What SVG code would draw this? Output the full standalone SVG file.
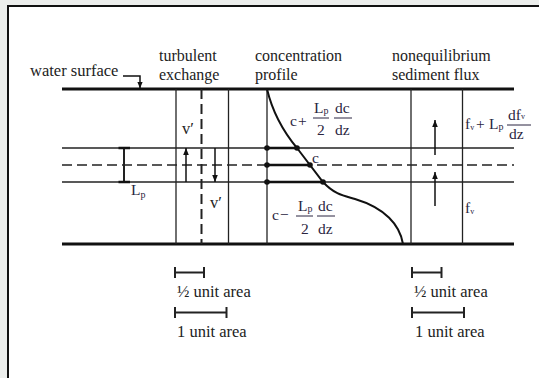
<svg xmlns="http://www.w3.org/2000/svg" width="539" height="378" viewBox="0 0 539 378">
<defs>
<marker id="ah" viewBox="0 0 8 8" refX="8" refY="4" markerWidth="7" markerHeight="7" markerUnits="userSpaceOnUse" orient="auto">
<path d="M0,0.8 L8,4 L0,7.2 Z" fill="#111"/>
</marker>
<style>
.lbl{font-family:"Liberation Serif","DejaVu Serif",serif;font-size:16.5px;fill:#222}
.hd{font-family:"Liberation Serif","DejaVu Serif",serif;font-size:16px;fill:#222}
.m{font-family:"Liberation Serif","DejaVu Serif",serif;font-size:15.5px;fill:#2a2540}
.thick{stroke:#111;stroke-width:3;fill:none}
.thin{stroke:#222;stroke-width:1.3;fill:none}
.dash{stroke:#222;stroke-width:1.3;stroke-dasharray:10 5;fill:none}
.vdash{stroke:#222;stroke-width:2;stroke-dasharray:10 5;fill:none}
.bar{stroke:#222;stroke-width:2;fill:none}
.arr{stroke:#111;stroke-width:1.5;fill:none;marker-end:url(#ah)}
.seg{stroke:#111;stroke-width:2.5}
.dot{fill:#111}
</style>
</defs>
<rect x="0" y="0" width="539" height="378" fill="#eceeec"/>
<rect x="8" y="6" width="540" height="380" fill="#fff" stroke="#111" stroke-width="2"/>

<g id="channel">
<line class="thick" x1="62" y1="89" x2="514" y2="89"/>
<line class="thick" x1="62" y1="244" x2="514" y2="244"/>
<line class="thin" x1="62" y1="148" x2="514" y2="148"/>
<line class="thin" x1="62" y1="182" x2="514" y2="182"/>
<line class="dash" x1="62" y1="165" x2="514" y2="165"/>
</g>

<g id="water-surface">
<text class="lbl" x="30" y="76">water surface</text>
<path class="arr" d="M123,76 H140 V88.5" />
</g>

<g id="lp-marker">
<line class="bar" x1="124" y1="148" x2="124" y2="182"/>
<line class="seg" x1="118.5" y1="148" x2="130" y2="148"/>
<line class="seg" x1="118.5" y1="182" x2="130" y2="182"/>
<text class="m" x="131" y="195" font-size="14">L<tspan font-size="10" dy="3">p</tspan></text>
</g>

<g id="turbulent-exchange">
<text class="hd" x="159" y="61">turbulent</text>
<text class="hd" x="159" y="79.5">exchange</text>
<line class="thin" x1="176" y1="89" x2="176" y2="244"/>
<line class="thin" x1="228.5" y1="89" x2="228.5" y2="244"/>
<line class="vdash" x1="201.5" y1="89" x2="201.5" y2="244"/>
<text class="lbl" x="182" y="134">v′</text>
<text class="lbl" x="210" y="208">v′</text>
</g>

<g id="concentration-profile">
<text class="hd" x="255" y="61">concentration</text>
<text class="hd" x="255" y="79.5">profile</text>
<line class="thin" x1="267" y1="89" x2="267" y2="244" stroke-width="1.5"/>
<path d="M267,89 C272,110 282,130 297,148 L323,182 C335,195 345,196 355,199 C385,208 400,225 403,244" fill="none" stroke="#111" stroke-width="2"/>
<line class="seg" x1="267" y1="148" x2="297" y2="148"/>
<line class="seg" x1="267" y1="165" x2="310" y2="165"/>
<line class="seg" x1="267" y1="182" x2="323" y2="182"/>
<circle class="dot" cx="267" cy="148" r="2.8"/>
<circle class="dot" cx="267" cy="165" r="2.8"/>
<circle class="dot" cx="267" cy="182" r="2.8"/>
<circle class="dot" cx="297" cy="148" r="2.8"/>
<circle class="dot" cx="310" cy="165" r="2.8"/>
<circle class="dot" cx="323" cy="182" r="2.8"/>
<text class="m" x="312" y="163" font-size="17">c</text>
<text class="m" x="290" y="126" font-size="17">c</text>
<text class="m" x="298" y="126" font-size="17">+</text>
<text class="m" x="314" y="113">L<tspan font-size="10" dy="1">p</tspan></text>
<line x1="313" y1="118" x2="329" y2="118" stroke="#2a2540" stroke-width="1"/>
<text class="m" x="317" y="135">2</text>
<text class="m" x="335" y="113">dc</text>
<line x1="334" y1="118" x2="352" y2="118" stroke="#2a2540" stroke-width="1"/>
<text class="m" x="335" y="135">dz</text>
<text class="m" x="272" y="220" font-size="17">c</text>
<text class="m" x="280" y="220" font-size="17">−</text>
<text class="m" x="298" y="211">L<tspan font-size="10" dy="1">p</tspan></text>
<line x1="296" y1="216" x2="313" y2="216" stroke="#2a2540" stroke-width="1"/>
<text class="m" x="301" y="234">2</text>
<text class="m" x="318" y="211">dc</text>
<line x1="317" y1="216" x2="335" y2="216" stroke="#2a2540" stroke-width="1"/>
<text class="m" x="318" y="234">dz</text>
</g>

<g id="sediment-flux">
<text class="hd" x="392" y="61">nonequilibrium</text>
<text class="hd" x="392" y="79.5">sediment flux</text>
<line class="thin" x1="411" y1="89" x2="411" y2="244"/>
<line class="thin" x1="462.5" y1="89" x2="462.5" y2="244"/>
<text class="m" x="465" y="129">f<tspan font-size="8" dy="1">v</tspan></text>
<text class="m" x="476" y="129">+</text>
<text class="m" x="489" y="129">L<tspan font-size="10" dy="1">p</tspan></text>
<text class="m" x="508" y="120">df<tspan font-size="8" dy="-1">v</tspan></text>
<line x1="507" y1="125" x2="531" y2="125" stroke="#2a2540" stroke-width="1"/>
<text class="m" x="509" y="139">dz</text>
<text class="m" x="465" y="213">f<tspan font-size="8" dy="1">v</tspan></text>
</g>

<g id="connectors">
<line class="arr" x1="186" y1="182" x2="186" y2="148"/>
<line class="arr" x1="215" y1="148" x2="215" y2="182"/>
<line class="arr" x1="435" y1="155" x2="435" y2="120"/>
<line class="arr" x1="435" y1="206" x2="435" y2="172"/>
</g>

<g id="scale-left">
<line class="bar" x1="175" y1="272.5" x2="204" y2="272.5"/>
<line class="bar" x1="175" y1="267" x2="175" y2="278"/>
<line class="bar" x1="204" y1="267" x2="204" y2="278"/>
<text class="lbl" x="177" y="297">½ unit area</text>
<line class="bar" x1="175" y1="312.5" x2="226.5" y2="312.5"/>
<line class="bar" x1="175" y1="307" x2="175" y2="318"/>
<line class="bar" x1="226.5" y1="307" x2="226.5" y2="318"/>
<text class="lbl" x="177" y="336.5">1 unit area</text>
</g>

<g id="scale-right">
<line class="bar" x1="412" y1="272.5" x2="441.5" y2="272.5"/>
<line class="bar" x1="412" y1="267" x2="412" y2="278"/>
<line class="bar" x1="441.5" y1="267" x2="441.5" y2="278"/>
<text class="lbl" x="414" y="297">½ unit area</text>
<line class="bar" x1="412" y1="312.5" x2="464" y2="312.5"/>
<line class="bar" x1="412" y1="307" x2="412" y2="318"/>
<line class="bar" x1="464" y1="307" x2="464" y2="318"/>
<text class="lbl" x="415" y="336.5">1 unit area</text>
</g>
</svg>
